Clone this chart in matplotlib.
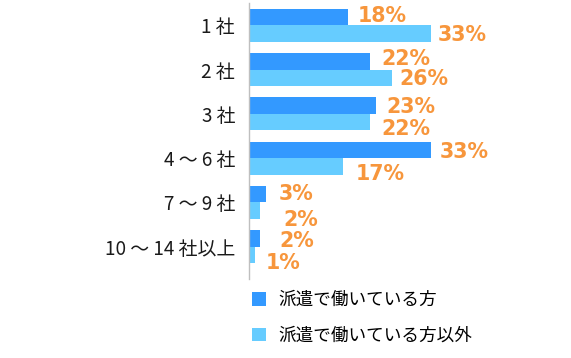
import matplotlib
matplotlib.use("Agg")
import matplotlib.pyplot as plt
from matplotlib.patches import Patch
import numpy as np

categories = ["1 社", "2 社", "3 社", "4 ～ 6 社", "7 ～ 9 社", "10 ～ 14 社以上"]
series_names = ["派遣で働いている方", "派遣で働いている方以外"]
haken = [18, 22, 23, 33, 3, 2]
other = [33, 26, 22, 17, 2, 1]
colors = ["#3399FF", "#66CCFF"]
label_color = "#F7963C"

# label nudges in pixels (style only): (dx, dy down)
haken_nudge = [(9, -1.5), (11, -2.5), (11, 1), (9, 2.5), (13, 0), (19, 3)]
other_nudge = [(7, 1.5), (7, 1), (11, 7), (13, 8), (23, 9), (11, 8)]

plt.rcParams['font.family'] = ['Noto Sans CJK JP', 'DejaVu Sans']

W, H = 571, 358
fig = plt.figure(figsize=(W / 100, H / 100), dpi=100)
ax_left, ax_right = 249, 560
ax_top, ax_bottom = 3, 279
ax = fig.add_axes([ax_left / W, 1 - ax_bottom / H, (ax_right - ax_left) / W, (ax_bottom - ax_top) / H])

y = np.arange(len(categories))
h = 0.373
b1 = ax.barh(y - h / 2, haken, height=h, color=colors[0], label=series_names[0])
b2 = ax.barh(y + h / 2, other, height=h, color=colors[1], label=series_names[1])

for bars, vals, nudges in ((b1, haken, haken_nudge), (b2, other, other_nudge)):
    for bar, v, (dx, dy) in zip(bars, vals, nudges):
        ax.annotate(f"{v}%", (bar.get_width(), bar.get_y() + bar.get_height() / 2),
                    xytext=(dx, -dy), textcoords="offset pixels",
                    ha="left", va="center", color=label_color, fontsize=14.8,
                    fontweight="bold", family="DejaVu Sans")

ax.set_xlim(0, (ax_right - ax_left) / (182 / 33))
ax.set_ylim(len(categories) - 1 + 0.73, -0.503)
ax.set_yticks(y)
ax.set_yticklabels(categories, fontsize=13.6, color="#1a1a1a")
ax.tick_params(axis="y", length=0, pad=10)
ax.set_xticks([])
for s in ["top", "right", "bottom"]:
    ax.spines[s].set_visible(False)
ax.spines["left"].set_color("#BFBFBF")
ax.spines["left"].set_linewidth(1)

handles = [Patch(facecolor=c, edgecolor="none") for c in colors]
fig.legend(handles, series_names, loc="upper left",
           bbox_to_anchor=(252 / W, 1 - 291 / H), frameon=False, fontsize=12.7,
           handlelength=0.8, handleheight=0.8, handletextpad=0.7,
           labelspacing=1.0, borderpad=0, borderaxespad=0)

fig.savefig("out.png", dpi=100)
